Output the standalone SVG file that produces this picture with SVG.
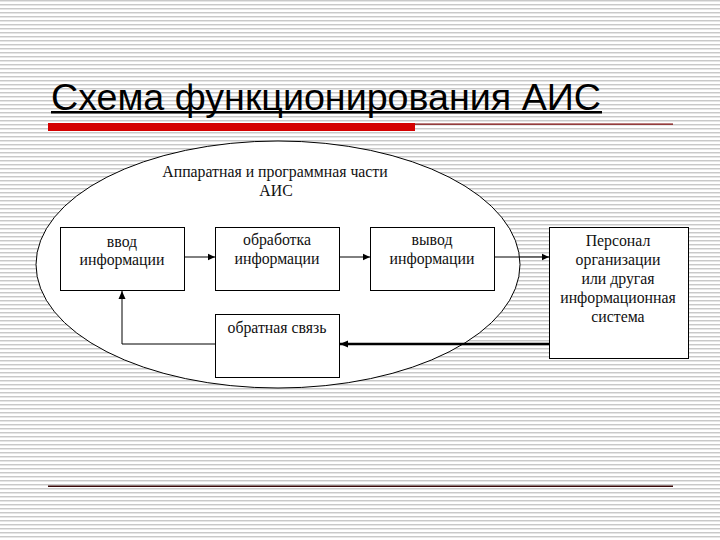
<svg xmlns="http://www.w3.org/2000/svg" width="720" height="540" viewBox="0 0 720 540">
  <defs>
    <pattern id="stripes" width="8" height="4" patternUnits="userSpaceOnUse">
      <rect width="8" height="4" fill="#ffffff"/>
      <rect y="0" width="8" height="1" fill="#c9c9c9"/>
      <rect y="1" width="8" height="1" fill="#e6e6e6"/>
    </pattern>
    <marker id="arr" markerWidth="8" markerHeight="8" refX="7" refY="4" orient="auto" markerUnits="userSpaceOnUse">
      <path d="M0,0.8 L7,4 L0,7.2 Z" fill="#000"/>
    </marker>
    <marker id="arrB" markerWidth="10" markerHeight="10" refX="8" refY="5" orient="auto" markerUnits="userSpaceOnUse">
      <path d="M0,1.5 L8,5 L0,8.5 Z" fill="#000"/>
    </marker>
    <style>
      .box { fill: #ffffff; stroke: #000; stroke-width: 1; }
      .t { font-family: "Liberation Serif", "Times New Roman", serif; font-size: 15.8px; fill: #111; text-anchor: middle; }
      .thin { fill: none; stroke: #000; stroke-width: 1; }
      .thick { fill: none; stroke: #000; stroke-width: 2.5; }
    </style>
  </defs>

  <rect width="720" height="540" fill="url(#stripes)"/>

  <g id="title">
    <text x="51" y="110" font-family="Liberation Sans, Arial, sans-serif" font-size="37" fill="#000" textLength="550" lengthAdjust="spacingAndGlyphs">Схема функционирования АИС</text>
    <rect x="51" y="111" width="551" height="2.5" fill="#000"/>
    <rect x="48" y="123" width="367" height="8" fill="#d40000"/>
    <rect x="415" y="123.5" width="258" height="1.2" fill="#7a0000"/>
    <rect x="48" y="485.5" width="625" height="1.5" fill="#3a0a0a"/>
  </g>

  <g id="ais">
    <ellipse cx="278" cy="264.5" rx="242" ry="123.5" fill="#ffffff" stroke="#000" stroke-width="1"/>
    <text class="t" x="275" y="177">Аппаратная и программная части</text>
    <text class="t" x="276" y="196">АИС</text>
  </g>

  <g id="input">
    <rect class="box" x="60.5" y="227.5" width="124" height="63"/>
    <text class="t" x="122" y="247">ввод</text>
    <text class="t" x="122" y="265">информации</text>
  </g>

  <g id="processing">
    <rect class="box" x="215.5" y="227.5" width="124" height="63"/>
    <text class="t" x="277" y="245">обработка</text>
    <text class="t" x="277" y="264">информации</text>
  </g>

  <g id="output">
    <rect class="box" x="370.5" y="227.5" width="124" height="63"/>
    <text class="t" x="432" y="245">вывод</text>
    <text class="t" x="432" y="264">информации</text>
  </g>

  <g id="feedback">
    <rect class="box" x="215.5" y="314.5" width="124" height="63"/>
    <text class="t" x="277" y="333">обратная связь</text>
  </g>

  <g id="personnel">
    <rect class="box" x="549.5" y="227.5" width="139" height="131"/>
    <text class="t" x="618" y="246">Персонал</text>
    <text class="t" x="618" y="265">организации</text>
    <text class="t" x="618" y="284">или другая</text>
    <text class="t" x="618" y="303">информационная</text>
    <text class="t" x="618" y="322">система</text>
  </g>

  <g id="connectors">
    <line class="thin" x1="184.5" y1="257" x2="215" y2="257" marker-end="url(#arr)"/>
    <line class="thin" x1="339.5" y1="257" x2="370" y2="257" marker-end="url(#arr)"/>
    <line class="thin" x1="494.5" y1="257" x2="549" y2="257" marker-end="url(#arr)"/>
    <line class="thick" x1="549" y1="344" x2="340" y2="344" marker-end="url(#arrB)"/>
    <polyline class="thin" stroke-width="1.8" points="215,344 122,344 122,291" marker-end="url(#arrB)"/>
  </g>
</svg>
